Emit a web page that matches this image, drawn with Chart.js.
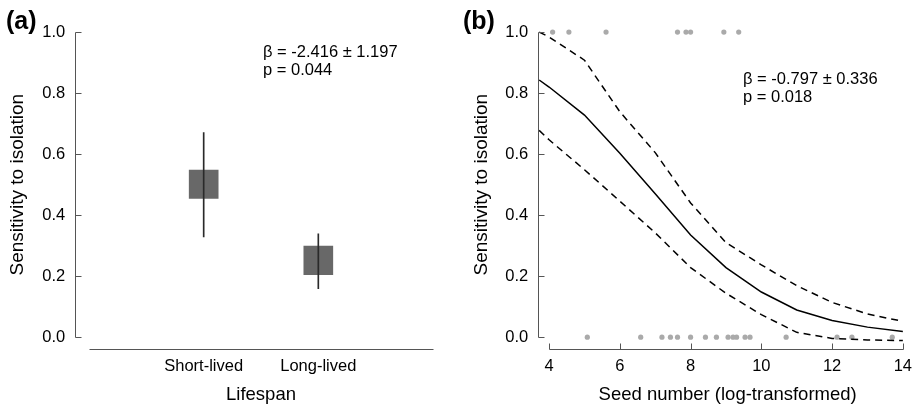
<!DOCTYPE html>
<html>
<head>
<meta charset="utf-8">
<script src="https://cdn.jsdelivr.net/npm/chart.js@4.4.1/dist/chart.umd.min.js"></script>
<style>
  body { margin: 0; background: #fff; }
  #wrap { position: relative; width: 921px; height: 408px; overflow: hidden; }
  .panel { position: absolute; top: 0; height: 408px; }
  #panelA { left: 0; width: 460px; }
  #panelB { left: 460px; width: 461px; }
</style>
</head>
<body>
<div id="wrap">
  <div class="panel" id="panelA"><canvas id="chartA"></canvas></div>
  <div class="panel" id="panelB"><canvas id="chartB"></canvas></div>
</div>
<script>
// shared y ticks
const yTicks = [0, 0.2, 0.4, 0.6, 0.8, 1.0];

// (a) lifespan
const lifespanLabels = ['Short-lived', 'Long-lived'];
const boxLow = [0.455, 0.205];
const boxHigh = [0.548, 0.299];
const ciLow = [0.329, 0.159];
const ciHigh = [0.671, 0.339];

// (b) seed number
const seedTicks = [4, 6, 8, 10, 12, 14];
const isolatedX = [4.10, 4.56, 5.61, 7.63, 7.87, 8.00, 8.94, 9.36];
const notIsolatedX = [5.08, 6.59, 7.19, 7.43, 7.63, 8.00, 8.42, 8.73, 9.06, 9.20, 9.30,
  9.54, 9.68, 10.70, 12.14, 12.56, 13.70];
const curveX = [3.72, 4, 5, 6, 7, 8, 9, 10, 11, 12, 13, 14];
const fitY = [0.843, 0.820, 0.728, 0.603, 0.470, 0.335, 0.228, 0.148, 0.089, 0.055, 0.033, 0.019];
const upperY = [1.000, 0.984, 0.908, 0.739, 0.605, 0.440, 0.310, 0.237, 0.169, 0.114, 0.076, 0.052];
const lowerY = [0.678, 0.647, 0.549, 0.446, 0.342, 0.228, 0.144, 0.074, 0.016, -0.004, -0.009, -0.011];

Chart.defaults.font.family = '"Liberation Sans", Arial, sans-serif';
Chart.defaults.color = '#000';

const tickFont = { size: 16.5 };
const titleFont = { size: 18.5 };

// R style axes: lines only over the tick range, ticks pointing inward
const rAxes = {
  id: 'rAxes',
  afterDraw(chart, args, opts) {
    const { ctx, chartArea: a, scales: { x, y } } = chart;
    const px = (v) => Math.round(v) + 0.5;
    ctx.save();
    ctx.strokeStyle = '#555';
    ctx.lineWidth = 1;
    ctx.beginPath();
    const left = px(a.left);
    ctx.moveTo(left, px(y.getPixelForValue(yTicks[0])));
    ctx.lineTo(left, px(y.getPixelForValue(yTicks[yTicks.length - 1])));
    yTicks.forEach((v) => {
      const py = px(y.getPixelForValue(v));
      ctx.moveTo(left, py);
      ctx.lineTo(left + 6, py);
    });
    const bottom = px(a.bottom);
    ctx.moveTo(px(x.getPixelForValue(opts.xFrom)), bottom);
    ctx.lineTo(px(x.getPixelForValue(opts.xTo)), bottom);
    (opts.xTicks || []).forEach((v) => {
      const pxv = px(x.getPixelForValue(v));
      ctx.moveTo(pxv, bottom);
      ctx.lineTo(pxv, bottom - 6);
    });
    ctx.stroke();

    ctx.fillStyle = '#000';
    ctx.textBaseline = 'middle';
    ctx.font = 'bold 25px "Liberation Sans", Arial, sans-serif';
    ctx.fillText(opts.tag, opts.tagX, 22);
    ctx.font = '16.5px "Liberation Sans", Arial, sans-serif';
    opts.note.forEach((line, i) => ctx.fillText(line, opts.noteX, opts.noteY + i * 18.5));
    ctx.restore();
  }
};

function yScale(width, titlePad) {
  return {
    type: 'linear',
    min: -0.04,
    max: 1.04,
    afterBuildTicks: (s) => { s.ticks = yTicks.map((v) => ({ value: v })); },
    afterFit: (s) => { s.width = width; },
    ticks: { font: tickFont, padding: 10, callback: (v) => v.toFixed(1) },
    grid: { display: false, drawTicks: false },
    border: { display: false },
    title: { display: true, text: 'Sensitivity to isolation', font: { size: 19 }, padding: { top: titlePad } }
  };
}

const common = {
  responsive: true,
  maintainAspectRatio: false,
  animation: false,
  events: [],
  plugins: { legend: { display: false }, tooltip: { enabled: false } }
};

new Chart(document.getElementById('chartA'), {
  type: 'bar',
  data: {
    datasets: [
      {
        label: 'CI',
        data: lifespanLabels.map((_, i) => ({ x: i + 1, y: [ciLow[i], ciHigh[i]] })),
        backgroundColor: '#2a2a2a',
        barThickness: 1,
        grouped: false,
        order: 0
      },
      {
        label: 'Estimate',
        data: lifespanLabels.map((_, i) => ({ x: i + 1, y: [boxLow[i], boxHigh[i]] })),
        backgroundColor: '#686868',
        barThickness: 29,
        grouped: false,
        order: 1
      }
    ]
  },
  options: {
    ...common,
    layout: { padding: { top: 17.7, right: 13.3, left: 0, bottom: 0 } },
    scales: {
      x: {
        type: 'linear',
        offset: false,
        min: -0.12,
        max: 3.12,
        afterBuildTicks: (s) => { s.ticks = lifespanLabels.map((_, i) => ({ value: i + 1 })); },
        afterFit: (s) => { s.height = 58.6; },
        ticks: { font: tickFont, padding: 7.5, callback: (v) => lifespanLabels[v - 1] },
        grid: { display: false, drawTicks: false, offset: false },
        border: { display: false },
        title: { display: true, text: 'Lifespan', font: titleFont, padding: { bottom: 2 } }
      },
      y: yScale(75.3, 6)
    },
    plugins: {
      ...common.plugins,
      rAxes: {
        xFrom: 0, xTo: 3, xTicks: [],
        tag: '(a)', tagX: 6,
        note: ['\u03B2 = -2.416 \u00B1 1.197', 'p = 0.044'], noteX: 263, noteY: 52
      }
    }
  },
  plugins: [rAxes]
});

new Chart(document.getElementById('chartB'), {
  type: 'scatter',
  data: {
    datasets: [
      {
        label: 'Fit',
        data: curveX.map((x, i) => ({ x, y: fitY[i] })),
        showLine: true, borderColor: '#000', borderWidth: 1.5, pointRadius: 0
      },
      {
        label: 'Upper',
        data: curveX.map((x, i) => ({ x, y: upperY[i] })),
        showLine: true, borderColor: '#000', borderWidth: 1.5, borderDash: [7, 5], pointRadius: 0
      },
      {
        label: 'Lower',
        data: curveX.map((x, i) => ({ x, y: lowerY[i] })),
        showLine: true, borderColor: '#000', borderWidth: 1.5, borderDash: [7, 5], pointRadius: 0
      },
      {
        label: 'Isolated',
        data: isolatedX.map((x) => ({ x, y: 1 })),
        pointRadius: 2.6, backgroundColor: '#aaa', borderWidth: 0
      },
      {
        label: 'Not isolated',
        data: notIsolatedX.map((x) => ({ x, y: 0 })),
        pointRadius: 2.6, backgroundColor: '#aaa', borderWidth: 0
      }
    ]
  },
  options: {
    ...common,
    layout: { padding: { top: 17.7, right: 0, left: 0, bottom: 0 } },
    scales: {
      x: {
        type: 'linear',
        min: 3.695,
        max: 14.4,
        afterBuildTicks: (s) => { s.ticks = seedTicks.map((v) => ({ value: v })); },
        afterFit: (s) => { s.height = 58.6; },
        ticks: { font: tickFont, padding: 7.5 },
        grid: { display: false, drawTicks: false },
        border: { display: false },
        title: { display: true, text: 'Seed number (log-transformed)', font: titleFont, padding: { bottom: 2 } }
      },
      y: yScale(78.3, 10.5)
    },
    plugins: {
      ...common.plugins,
      rAxes: {
        xFrom: 4, xTo: 14, xTicks: seedTicks,
        tag: '(b)', tagX: 3,
        note: ['\u03B2 = -0.797 \u00B1 0.336', 'p = 0.018'], noteX: 283, noteY: 79
      }
    }
  },
  plugins: [rAxes]
});
</script>
</body>
</html>
